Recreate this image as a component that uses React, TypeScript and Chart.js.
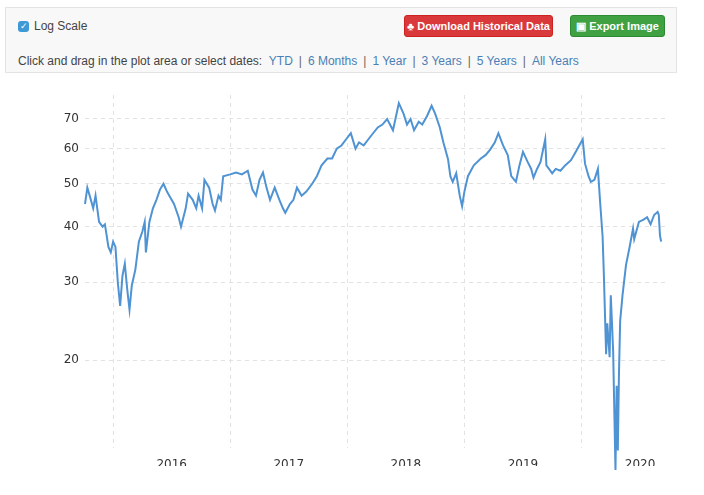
import React, { useEffect, useRef } from 'react';
import { Chart, registerables } from 'chart.js';

Chart.register(...registerables);

// decimal years and prices
const dates = [
  2015.76, 2015.78, 2015.80, 2015.83, 2015.85, 2015.88, 2015.91, 2015.93, 2015.96, 2015.98,
  2016.00, 2016.02, 2016.04, 2016.06, 2016.08, 2016.10, 2016.12, 2016.14, 2016.16, 2016.19,
  2016.22, 2016.25, 2016.27, 2016.28, 2016.31, 2016.34, 2016.37, 2016.40, 2016.43, 2016.46,
  2016.48, 2016.52, 2016.56, 2016.58, 2016.62, 2016.64, 2016.68, 2016.71, 2016.73, 2016.76,
  2016.78, 2016.82, 2016.85, 2016.87, 2016.90, 2016.92, 2016.94, 2017.00, 2017.05, 2017.10,
  2017.15, 2017.19, 2017.22, 2017.25, 2017.28, 2017.31, 2017.34, 2017.38, 2017.42, 2017.45,
  2017.47, 2017.51, 2017.54, 2017.57, 2017.61, 2017.65, 2017.70, 2017.74, 2017.78, 2017.83,
  2017.87, 2017.91, 2017.95, 2017.99, 2018.03, 2018.07, 2018.10, 2018.14, 2018.18, 2018.22,
  2018.26, 2018.30, 2018.34, 2018.39, 2018.44, 2018.48, 2018.51, 2018.54, 2018.57, 2018.61,
  2018.64, 2018.68, 2018.72, 2018.75, 2018.79, 2018.82, 2018.86, 2018.88, 2018.90, 2018.93,
  2018.96, 2018.98, 2019.00, 2019.03, 2019.08, 2019.14, 2019.18, 2019.22, 2019.26, 2019.29,
  2019.33, 2019.37, 2019.40, 2019.44, 2019.47, 2019.50, 2019.54, 2019.57, 2019.59, 2019.62,
  2019.65, 2019.69, 2019.70, 2019.75, 2019.78, 2019.82, 2019.86, 2019.91, 2019.95, 2020.01,
  2020.03, 2020.06, 2020.08, 2020.11, 2020.14, 2020.16, 2020.18, 2020.19, 2020.21, 2020.22,
  2020.24, 2020.25, 2020.27, 2020.29, 2020.30, 2020.31, 2020.32, 2020.33, 2020.35, 2020.38,
  2020.41, 2020.44, 2020.45, 2020.49, 2020.53, 2020.56, 2020.59, 2020.62, 2020.65, 2020.66,
  2020.67, 2020.68,
];
const prices = [
  45, 49, 47, 44, 47, 41, 40, 40.5, 36, 35,
  37, 36, 30, 26.5, 31, 33, 29, 26, 29.5, 32,
  37, 39, 41, 35, 41, 44, 46, 48.5, 50, 48,
  47, 45, 42, 40, 44, 47.5, 46, 44, 47, 44,
  51, 49, 45, 43.5, 47, 46, 52, 52.5, 53, 52.5,
  53.5, 48.5, 47, 51, 53, 49, 46, 49, 46, 44,
  43, 45, 46, 49, 47, 48, 50, 52, 55, 57,
  57, 60, 61, 63, 65, 60, 62, 61, 63, 65,
  67, 68, 70, 66, 76, 72, 68, 70, 66, 69,
  68, 71, 75, 72, 67, 62, 56.8, 52, 50.5, 52.8,
  47, 44.5, 48, 52, 55, 57, 58, 59.7, 62, 65,
  61, 58, 52, 50.5, 55, 59, 56, 54, 51.6, 54,
  56, 63, 55, 52.8, 54, 53.5, 55, 56.5, 59, 63,
  55.5, 52, 50.5, 51, 54, 45, 38, 31.7, 20.6, 24.2,
  20.3, 28, 21, 11.3, 17.5, 12.5, 18.8, 24.5, 28, 32.8,
  35.9, 39.6, 37.5, 41, 41.5, 42, 40.5, 42.5, 43.2, 42.5,
  38.2, 37,
];
const yTicks = [20, 30, 40, 50, 60, 70];
const yearLines = [2016, 2017, 2018, 2019, 2020];
const yearLabels = [2016.5, 2017.5, 2018.5, 2019.5, 2020.5];

const headerFont = '"Liberation Sans", Arial, sans-serif';
const axisFont = { family: '"DejaVu Sans", Verdana, sans-serif', size: 12 };

const App: React.FC = () => {
  const canvasRef = useRef<HTMLCanvasElement | null>(null);
  const chartRef = useRef<Chart | null>(null);

  useEffect(() => {
    document.body.style.margin = '0';
    document.body.style.overflow = 'hidden';
    if (!canvasRef.current) return;
    if (chartRef.current) chartRef.current.destroy();
    const ctx = canvasRef.current.getContext('2d');
    if (!ctx) return;

    chartRef.current = new Chart(ctx, {
      type: 'line',
      data: {
        datasets: [
          {
            data: dates.map((d, i) => ({ x: d, y: prices[i] })),
            borderColor: '#4f93d3',
            borderWidth: 2,
            pointRadius: 0,
            tension: 0,
            clip: false as any,
          },
        ],
      },
      options: {
        animation: false,
        responsive: true,
        maintainAspectRatio: false,
        layout: { padding: { left: 5, right: 37, top: 15, bottom: 89 } },
        plugins: { legend: { display: false }, tooltip: { enabled: false } },
        scales: {
          x: {
            type: 'linear',
            min: 2015.76,
            max: 2020.73,
            afterBuildTicks: (s: any) => {
              s.ticks = yearLabels.map(v => ({ value: v }));
            },
            afterFit: (s: any) => {
              s.height = 18;
            },
            border: { display: false },
            grid: { display: false },
            ticks: {
              padding: 2,
              autoSkip: false,
              maxRotation: 0,
              color: '#333',
              font: axisFont,
              callback: (v: any) => String(Math.floor(v)),
            },
          },
          x2: {
            type: 'linear',
            position: 'top',
            min: 2015.76,
            max: 2020.73,
            afterBuildTicks: (s: any) => {
              s.ticks = yearLines.map(v => ({ value: v }));
            },
            afterFit: (s: any) => {
              s.height = 0;
            },
            border: { display: false, dash: [4, 4] },
            grid: { color: '#e2e2e2', drawTicks: false },
            ticks: { display: false },
          },
          y: {
            type: 'logarithmic',
            min: 12.66,
            max: 79.3,
            afterBuildTicks: (s: any) => {
              s.ticks = yTicks.map(v => ({ value: v }));
            },
            afterFit: (s: any) => {
              s.width = 80;
            },
            border: { display: false, dash: [4, 4] },
            grid: { color: '#e2e2e2', drawTicks: false },
            ticks: {
              padding: 6,
              color: '#333',
              font: axisFont,
              callback: (v: any) => String(v),
            },
          },
        },
      },
    });

    return () => {
      if (chartRef.current) chartRef.current.destroy();
    };
  }, []);

  const btn: React.CSSProperties = {
    position: 'absolute',
    top: 7,
    height: 22,
    color: '#fff',
    fontSize: 11,
    fontWeight: 'bold',
    fontFamily: headerFont,
    borderRadius: 3,
    display: 'flex',
    alignItems: 'center',
    justifyContent: 'center',
    boxSizing: 'border-box',
  };
  const link: React.CSSProperties = { color: '#4a7fb5' };
  const sep = <span style={{ color: '#666', margin: '0 6px' }}>|</span>;

  return (
    <div style={{ position: 'fixed', left: 0, top: 0, width: 704, height: 495, background: '#fff', overflow: 'hidden' }}>
      <div
        style={{
          position: 'absolute', left: 5, top: 7, width: 672, height: 66,
          background: '#f8f8f8', border: '1px solid #e4e4e4', boxSizing: 'border-box',
          fontFamily: headerFont,
        }}
      >
        <div style={{ position: 'absolute', left: 12, top: 11, fontSize: 12, color: '#444', display: 'flex', alignItems: 'center' }}>
          <span style={{ display: 'inline-block', width: 11, height: 11, background: '#3d9ad6', borderRadius: 3, marginRight: 5, color: '#fff', fontSize: 9, lineHeight: '11px', textAlign: 'center' }}>✓</span>
          Log Scale
        </div>
        <div style={{ ...btn, left: 398, width: 149, background: '#d9393a', border: '1px solid #c22' }}>
          ♣&nbsp;Download Historical Data
        </div>
        <div style={{ ...btn, left: 564, width: 95, background: '#3fa142', border: '1px solid #2e8a32' }}>
          ▣&nbsp;Export Image
        </div>
        <div style={{ position: 'absolute', left: 12, top: 46, fontSize: 12, color: '#444', whiteSpace: 'nowrap' }}>
          Click and drag in the plot area or select dates:&nbsp;&nbsp;
          <span style={link}>YTD</span>{sep}<span style={link}>6 Months</span>{sep}
          <span style={link}>1 Year</span>{sep}<span style={link}>3 Years</span>{sep}
          <span style={link}>5 Years</span>{sep}<span style={link}>All Years</span>
        </div>
      </div>
      <div style={{ position: 'absolute', left: 0, top: 80, width: 704, height: 475 }}>
        <canvas ref={canvasRef} />
      </div>
    </div>
  );
};

export default App;
